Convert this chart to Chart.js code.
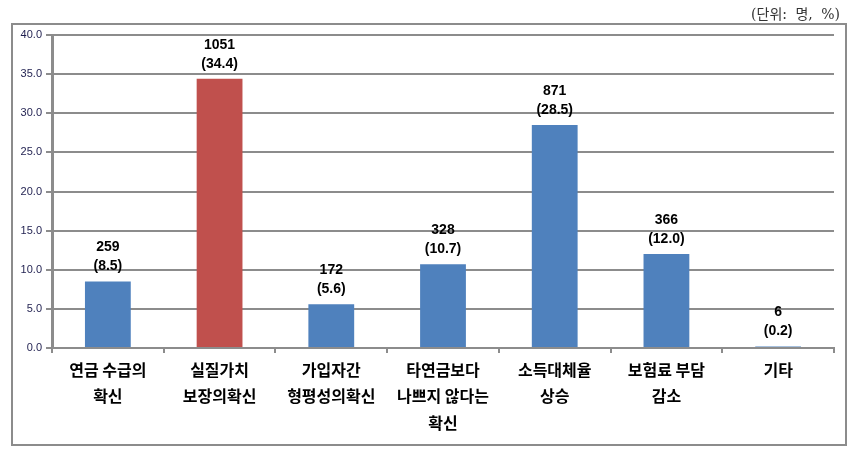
<!DOCTYPE html>
<html>
<head>
<meta charset="utf-8">
<script src="https://cdn.jsdelivr.net/npm/chart.js@4"></script>
<style>
  body { margin: 0; background: #fff; }
  #wrap { position: relative; width: 864px; height: 467px; }
  #frame { position: absolute; left: 11px; top: 23px; width: 832px; height: 419px; border: 2px solid #8c8c8c; pointer-events: none; }
  #unit { position: absolute; right: 24px; top: 3px; font: 14px "DejaVu Serif", "Noto Sans CJK KR", serif; word-spacing: 4px; color: #333; }
</style>
</head>
<body>
<div id="wrap">
  <div id="unit">(단위: 명, %)</div>
  <div id="frame"></div>
  <canvas id="chart"></canvas>
</div>
<script>
// 응답 항목 (줄바꿈은 배열로)
const categories = [
    ['연금 수급의', '확신'],
    ['실질가치', '보장의확신'],
    ['가입자간', '형평성의확신'],
    ['타연금보다', '나쁘지 않다는', '확신'],
    ['소득대체율', '상승'],
    ['보험료 부담', '감소'],
    ['기타']
];
// 응답자 수 (명)
const counts = [259, 1051, 172, 328, 871, 366, 6];
// 비율 (%)
const percents = [8.5, 34.4, 5.6, 10.7, 28.5, 12.0, 0.2];
// 막대 색 (두 번째 항목만 강조)
const barColors = ['#4F81BD', '#C0504D', '#4F81BD', '#4F81BD', '#4F81BD', '#4F81BD', '#4F81BD'];

const gridGray = '#8c8c8c';

// 막대 위에 "명 (%)" 두 줄 라벨을 그리는 플러그인
const valueLabels = {
    id: 'valueLabels',
    afterDatasetsDraw(chart) {
        const ctx = chart.ctx;
        const meta = chart.getDatasetMeta(0);
        ctx.save();
        ctx.fillStyle = '#000';
        ctx.font = 'bold 14px "Liberation Sans", Arial, sans-serif';
        ctx.textAlign = 'center';
        ctx.textBaseline = 'middle';
        meta.data.forEach((bar, i) => {
            ctx.fillText(String(counts[i]), bar.x, bar.y - 34);
            ctx.fillText('(' + percents[i].toFixed(1) + ')', bar.x, bar.y - 15);
        });
        ctx.restore();
    }
};

new Chart(document.getElementById('chart'), {
    type: 'bar',
    data: {
        labels: categories,
        datasets: [{
            data: percents,
            backgroundColor: barColors,
            borderWidth: 0,
            barPercentage: 0.41,
            categoryPercentage: 1
        }]
    },
    options: {
        responsive: true,
        maintainAspectRatio: false,
        animation: false,
        layout: { padding: { left: 12, right: 30, top: 35, bottom: 0 } },
        plugins: {
            legend: { display: false },
            tooltip: { enabled: false }
        },
        scales: {
            x: {
                afterFit(scale) { scale.height = 119; },
                grid: {
                    drawOnChartArea: false,
                    offset: true,
                    tickLength: 5,
                    color: gridGray,
                    lineWidth: 2
                },
                border: { display: true, color: gridGray, width: 2 },
                ticks: {
                    color: '#000',
                    padding: 3,
                    maxRotation: 0,
                    autoSkip: false,
                    font: { family: '"Noto Sans CJK KR", sans-serif', size: 16, weight: 'bold', lineHeight: 1.68 }
                }
            },
            y: {
                min: 0,
                max: 40,
                afterFit(scale) { scale.width = 40; },
                grid: { color: gridGray, lineWidth: 2, tickLength: 6 },
                border: { display: true, color: gridGray, width: 3 },
                ticks: {
                    stepSize: 5,
                    color: '#1f1f4f',
                    padding: 4,
                    font: { family: '"Liberation Sans", Arial, sans-serif', size: 11 },
                    callback: v => v.toFixed(1)
                }
            }
        }
    },
    plugins: [valueLabels]
});
</script>
</body>
</html>
